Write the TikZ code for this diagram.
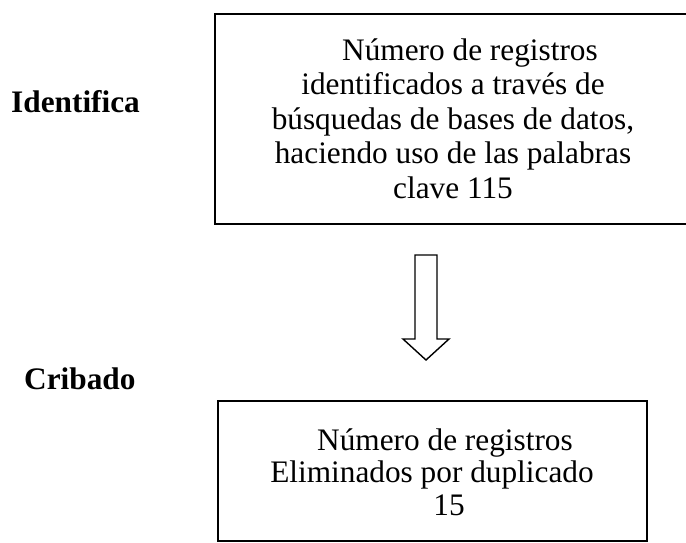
\documentclass[tikz,border=0pt]{standalone}
\usepackage{fontspec}
\setmainfont{Liberation Serif}
\begin{document}
\begin{tikzpicture}[x=1pt,y=-1pt,
  box/.style={draw, line width=1.6pt, inner sep=0pt, anchor=north west},
  txt/.style={anchor=base, inner sep=0pt, font=\fontsize{31.3}{34}\selectfont},
  lbl/.style={anchor=base west, inner sep=0pt, font=\fontsize{31.3}{34}\selectfont\bfseries},
  blockarrow/.style={draw, line width=1.4pt, fill=white, line join=miter}]
\clip (0,0) rectangle (686,542);
\fill[white] (0,0) rectangle (686,542);
% boxes
\node[box, minimum width=478pt, minimum height=210pt] (topbox) at (214,13) {};
\node[box, minimum width=429pt, minimum height=140pt] (botbox) at (217,400) {};
% top box text
\node[txt] (t1) at (470,60)    {Número de registros};
\node[txt] (t2) at (453,94.5)  {identificados a través de};
\node[txt] (t3) at (453,129)   {búsquedas de bases de datos,};
\node[txt] (t4) at (453,163.5) {haciendo uso de las palabras};
\node[txt] (t5) at (453,198)   {clave 115};
% bottom box text
\node[txt] (b1) at (445,450)   {Número de registros};
\node[txt] (b2) at (432,482)   {Eliminados por duplicado};
\node[txt] (b3) at (449,515)   {15};
% side labels
\node[lbl] (lid) at (11,112) {Identifica};
\node[lbl] (lcr) at (24,389) {Cribado};
% hollow block arrow
\coordinate (ar) at (426,255);
\draw[blockarrow] (ar) ++(-11,0) -- ++(22,0) -- ++(0,84) -- ++(12,0)
  -- (426,360) -- (403,339) -- ++(12,0) -- cycle;
\end{tikzpicture}
\end{document}
